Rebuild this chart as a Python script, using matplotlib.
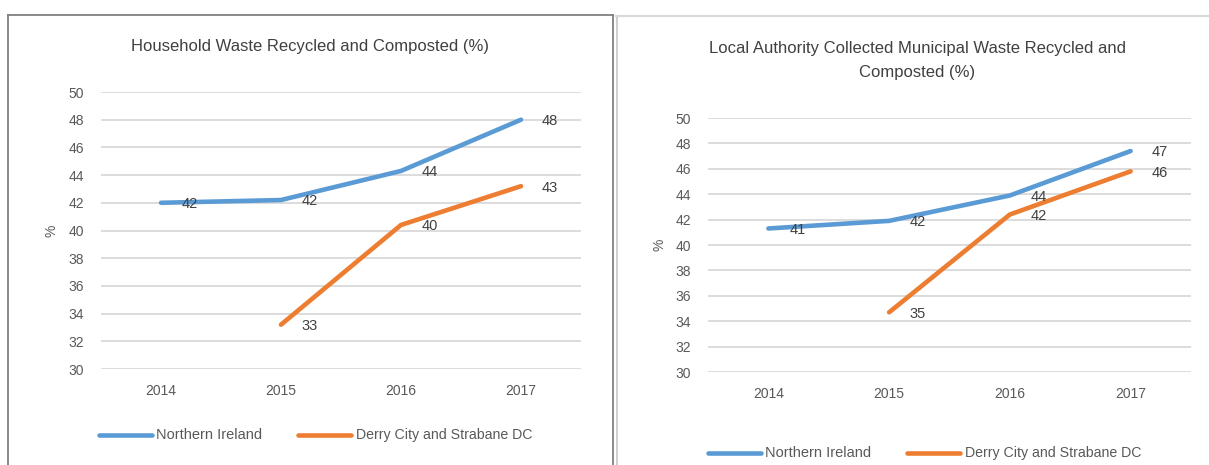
import matplotlib
matplotlib.use("Agg")
import matplotlib.pyplot as plt
from matplotlib.lines import Line2D

years = ["2014", "2015", "2016", "2017"]

# Household Waste Recycled and Composted (%)
hh_ni = [42.0, 42.2, 44.3, 48.0]
hh_ds = [None, 33.2, 40.4, 43.2]

# Local Authority Collected Municipal Waste Recycled and Composted (%)
la_ni = [41.3, 41.9, 43.9, 47.4]
la_ds = [None, 34.7, 42.4, 45.8]

series_names = ["Northern Ireland", "Derry City and Strabane DC"]
titles = ["Household Waste Recycled and Composted (%)",
          "Local Authority Collected Municipal Waste Recycled and\nComposted (%)"]
yticks = list(range(30, 51, 2))

BLUE = "#5B9BD5"
ORANGE = "#ED7D31"
TXT = "#595959"
GRID = "#D9D9D9"
FONT = "Liberation Sans"

W, H = 1209, 465
fig = plt.figure(figsize=(W / 100, H / 100), dpi=100)
fig.patch.set_facecolor("white")


def fx(px):
    return px / W


def fy(py):
    return 1 - py / H


# panel borders
fig.add_artist(Line2D([fx(8), fx(8)], [fy(15), fy(470)], color="#808080", lw=1.3))
fig.add_artist(Line2D([fx(8), fx(613)], [fy(15), fy(15)], color="#808080", lw=1.3))
fig.add_artist(Line2D([fx(613), fx(613)], [fy(15), fy(470)], color="#808080", lw=1.3))
fig.add_artist(Line2D([fx(616.5), fx(616.5)], [fy(16), fy(470)], color="#D0D0D0", lw=1.5))
fig.add_artist(Line2D([fx(616), fx(1209)], [fy(16.5), fy(16.5)], color="#D9D9D9", lw=1.6))


def draw(ax_rect, ni, ds, title, title_x, title_y, ylabel_x, leg_y, leg_x0):
    l, t, r, b = ax_rect
    ax = fig.add_axes([fx(l), fy(b), fx(r - l), (b - t) / H])
    x = list(range(len(years)))
    xs_ds = [i for i, v in zip(x, ds) if v is not None]
    vs_ds = [v for v in ds if v is not None]
    ax.plot(x, ni, color=BLUE, lw=3.3, solid_capstyle="round", solid_joinstyle="round", zorder=3)
    ax.plot(xs_ds, vs_ds, color=ORANGE, lw=3.3, solid_capstyle="round", solid_joinstyle="round", zorder=3)
    for xi, v in zip(x, ni):
        ax.annotate(f"{v:.0f}", (xi, v), xytext=(15, -1), textcoords="offset points",
                    ha="left", va="center", fontsize=10.5, color="#404040", family=FONT, zorder=4)
    for xi, v in zip(xs_ds, vs_ds):
        ax.annotate(f"{v:.0f}", (xi, v), xytext=(15, -1), textcoords="offset points",
                    ha="left", va="center", fontsize=10.5, color="#404040", family=FONT, zorder=4)
    ax.set_xlim(-0.5, len(years) - 0.5)
    ax.set_ylim(30, 50)
    ax.set_yticks(yticks)
    ax.set_yticklabels([str(v) for v in yticks], family=FONT, fontsize=10, color=TXT)
    ax.set_xticks(x)
    ax.set_xticklabels(years, family=FONT, fontsize=10, color=TXT)
    ax.tick_params(axis="both", length=0)
    ax.tick_params(axis="y", pad=12)
    ax.tick_params(axis="x", pad=11)
    for s in ax.spines.values():
        s.set_visible(False)
    ax.grid(axis="y", color=GRID, lw=1.3)
    ax.set_axisbelow(True)
    ax.set_facecolor("none")
    fig.text(fx(title_x), fy(title_y), title, ha="center", va="center",
             fontsize=12, color="#404040", family=FONT, linespacing=1.7)
    fig.text(fx(ylabel_x), fy((t + b) / 2), "%", rotation=90, ha="center", va="center",
             fontsize=10, color=TXT, family=FONT)
    # legend
    ly = fy(leg_y)
    fig.add_artist(Line2D([fx(leg_x0), fx(leg_x0 + 53)], [ly, ly], color=BLUE, lw=3.3,
                          solid_capstyle="round"))
    fig.text(fx(leg_x0 + 57), ly, series_names[0], ha="left", va="center",
             fontsize=10.5, color=TXT, family=FONT)
    fig.add_artist(Line2D([fx(leg_x0 + 199), fx(leg_x0 + 252)], [ly, ly], color=ORANGE, lw=3.3,
                          solid_capstyle="round"))
    fig.text(fx(leg_x0 + 257), ly, series_names[1], ha="left", va="center",
             fontsize=10.2, color=TXT, family=FONT)
    return ax


draw((101, 92, 581, 369), hh_ni, hh_ds, titles[0], 310, 47, 51, 435, 99)
draw((708, 118, 1191, 372), la_ni, la_ds, titles[1], 917, 60.5, 659, 453, 708)

fig.savefig("out.png", dpi=100, facecolor="white")
